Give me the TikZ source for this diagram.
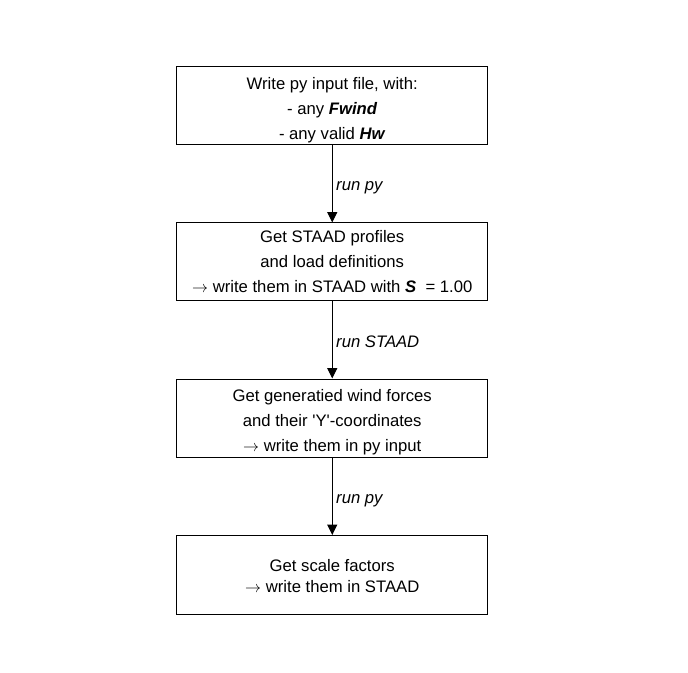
\documentclass[tikz,border=0pt]{standalone}
\usepackage{fontspec}
\setmainfont{Liberation Sans}
\usetikzlibrary{arrows.meta}
\tikzset{
  flowbox/.style={draw=black, line width=0.75pt, minimum width=233.25pt, minimum height=58.5pt, inner sep=0pt},
  flowtext/.style={align=center, inner sep=0pt, font=\fontsize{12.5}{18.75}\selectfont},
  flowarrow/.style={draw=black, line width=0.75pt, -{Triangle[length=7.8pt,width=7.5pt]}},
  arrowlabel/.style={anchor=base west, font=\fontsize{12.5}{14}\selectfont\itshape, inner sep=0pt, xshift=2.6pt, yshift=-5.25pt}
}
\newcommand{\bi}[1]{\textbf{\textit{#1}}}
\newcommand{\rarr}{$\rightarrow$}
\begin{document}
\begin{tikzpicture}[x=0.75pt,y=-0.75pt]
\useasboundingbox[fill=white] (0,0) rectangle (688,673);
\node[flowbox] (b1) at (332.25,106) {};
\node[flowbox] (b2) at (332.25,262) {};
\node[flowbox] (b3) at (332.25,418) {};
\node[flowbox, minimum height=59.5pt] (b4) at (332.25,575.2) {};
\node[flowtext] (t1) at (332.25,109.8) {Write py input file, with:\\- any \bi{Fwind}\\- any valid \bi{Hw}};
\node[flowtext] (t2) at (332.25,262) {Get STAAD profiles\\and load definitions\\\rarr{} write them in STAAD with \bi{S}\ \ = 1.00};
\node[flowtext] (t3) at (332.25,422.3) {Get generatied wind forces\\and their \textquotesingle Y\textquotesingle-coordinates\\\rarr{} write them in py input};
\node[flowtext, font=\fontsize{12.5}{16.1}\selectfont] (t4) at (332.25,576.3) {Get scale factors\\\rarr{} write them in STAAD};
\draw[flowarrow] (b1) -- node[arrowlabel] (l1) {run py} (b2);
\draw[flowarrow] (b2) -- node[arrowlabel] (l2) {run STAAD} (b3);
\draw[flowarrow] (b3) -- node[arrowlabel] (l3) {run py} (b4);
\end{tikzpicture}
\end{document}
